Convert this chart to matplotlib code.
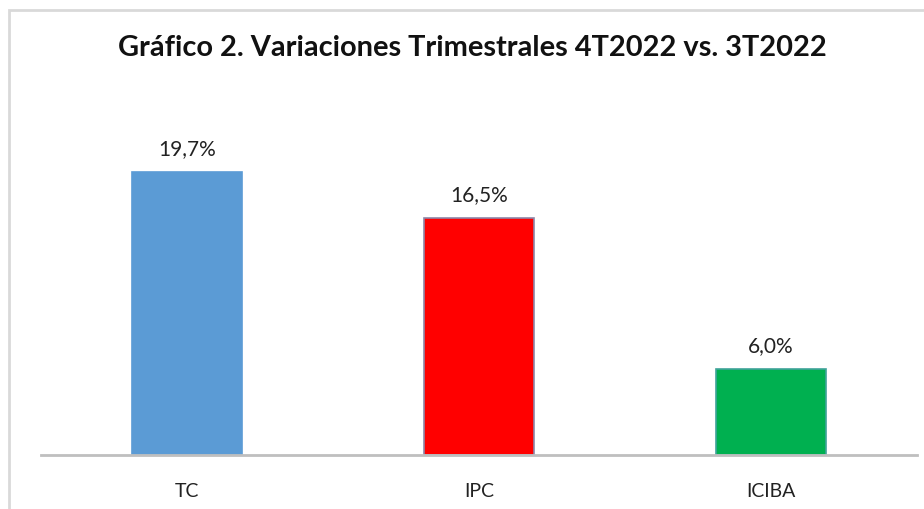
import matplotlib
matplotlib.use("Agg")
import matplotlib.pyplot as plt
from matplotlib.patches import Rectangle

categories = ["TC", "IPC", "ICIBA"]
values = [19.7, 16.5, 6.0]
labels = ["19,7%", "16,5%", "6,0%"]
colors = ["#5B9BD5", "#FF0000", "#00B050"]
edge_colors = ["#5B9BD5", "#8E86A8", "#3FA39A"]
title = "Gráfico 2. Variaciones Trimestrales 4T2022 vs. 3T2022"

W, H = 924, 509
fig = plt.figure(figsize=(W / 100, H / 100), dpi=100)
plt.rcParams['font.family'] = ['Lato', 'DejaVu Sans']

# outer border (top and left visible)
fig.add_artist(Rectangle((8.5 / W, -0.1), 1.2, (H - 9.5) / H + 0.1,
                         transform=fig.transFigure, fill=False,
                         edgecolor="#D9D9D9", linewidth=2))

x0, x1 = 41, 917
ybase, ytop = 455, 95.8
ax = fig.add_axes([x0 / W, 1 - ybase / H, (x1 - x0) / W, (ybase - ytop) / H])
ax.set_xlim(-0.5, 2.5)
ax.set_ylim(0, 25)

xs = list(range(len(categories)))
bars = ax.bar(xs, values, width=0.375, color=colors, edgecolor=edge_colors,
              linewidth=1.2, zorder=2)
for x, v, lab in zip(xs, values, labels):
    ax.annotate(lab, (x, v), xytext=(0, 9), textcoords="offset points",
                ha="center", va="bottom", fontsize=15, color="#222222")

for s in ["top", "right", "left"]:
    ax.spines[s].set_visible(False)
ax.spines["bottom"].set_color("#BFBFBF")
ax.spines["bottom"].set_linewidth(2)
ax.spines["bottom"].set_zorder(3)
ax.set_yticks([])
ax.set_xticks(xs)
ax.set_xticklabels(categories, fontsize=14, color="#222222")
ax.tick_params(axis="x", length=0, pad=20)

fig.text(472 / W, 1 - 48 / H, title, ha="center", va="center",
         fontsize=20.9, fontweight="bold", color="#111111")

fig.savefig("out.png", dpi=100)
